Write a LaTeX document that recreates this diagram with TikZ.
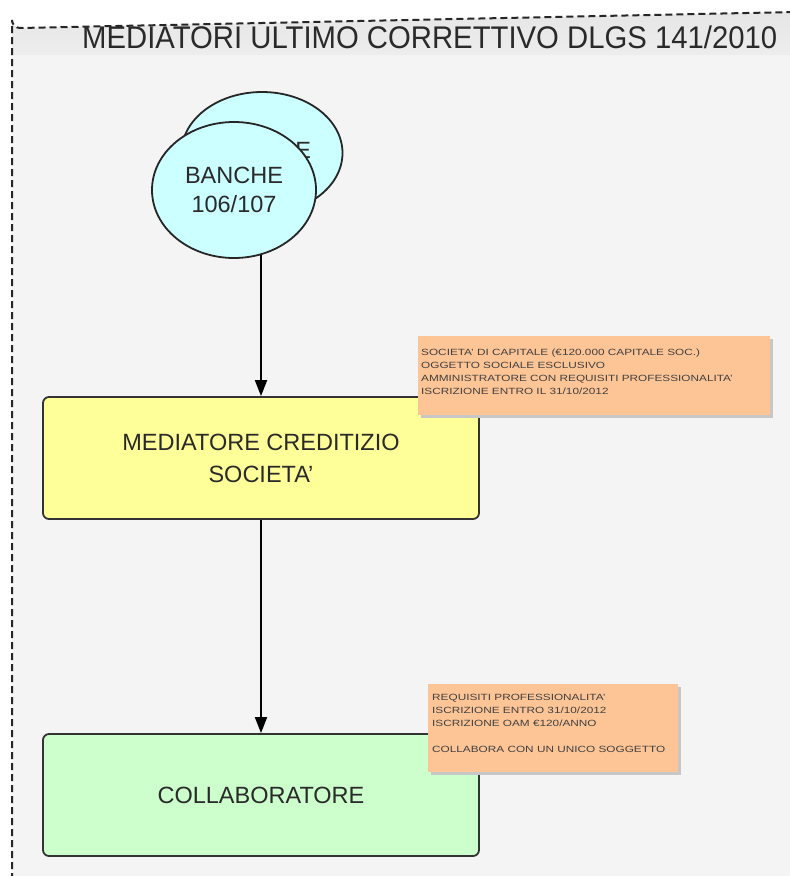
\documentclass[tikz,border=0pt]{standalone}
\usepackage{fontspec}
\setmainfont{Liberation Sans}[Ligatures=ResetAll]
\usetikzlibrary{shapes.geometric,arrows.meta}
\definecolor{bgray}{HTML}{F4F4F4}
\definecolor{tband}{HTML}{E6E6E6}
\definecolor{cyanfill}{HTML}{CCFFFF}
\definecolor{yelfill}{HTML}{FFFF99}
\definecolor{grnfill}{HTML}{CCFFCC}
\definecolor{notefill}{HTML}{FDC596}
\definecolor{txt}{HTML}{2A2A2A}
\newcommand{\ap}{\char"0027\relax}
\tikzset{
  circ/.style={ellipse, draw=black!85, line width=1.8pt, fill=cyanfill, text=txt,
    font=\fontsize{23.5}{29}\selectfont, align=center, inner sep=0pt},
  mainbox/.style={rectangle, rounded corners=6pt, draw=black!80, line width=1.8pt,
    minimum width=436pt, minimum height=122pt, text=txt,
    font=\fontsize{23.5}{32}\selectfont, align=center},
  note/.style={rectangle, fill=notefill, inner sep=0pt, anchor=north west},
  notetxt/.style={anchor=north west, inner sep=0pt, font=\fontsize{9}{13}\selectfont, text=black!75},
  shadowbox/.style={fill=black!22},
  conn/.style={line width=1.8pt, -{Triangle[width=12pt,length=16pt]}},
}
\newcommand{\notetext}[1]{\scalebox{1.31}[1]{\begin{tabular}{@{}l@{}}#1\end{tabular}}}
\begin{document}
\begin{tikzpicture}[x=1pt,y=-1pt]
\useasboundingbox (0,0) rectangle (790,876);
\fill[white] (0,0) rectangle (790,876);
% frame
\fill[bgray] (12,880) -- (12,20) arc[start angle=180,end angle=90,radius=8] -- (795,12) -- (795,880) -- cycle;
\shade[top color=tband, bottom color=tband!50!bgray] (12,55) -- (12,20) arc[start angle=180,end angle=90,radius=8] -- (795,12) -- (795,55) -- cycle;
\draw[dash pattern=on 7pt off 4pt, line width=2pt, black!85] (12,880) -- (12,20) arc[start angle=180,end angle=90,radius=8] -- (795,12);
\node[text=txt, font=\fontsize{29}{32}\selectfont, anchor=west, inner sep=0pt] (title) at (82,37) {\scalebox{1.01}[1.08]{MEDIATORI ULTIMO CORRETTIVO DLGS 141/2010}};
% circles
\node[circ, minimum width=161pt, minimum height=122pt] (back) at (262,153) {\raisebox{6pt}{BANCHE}};
\node[circ, minimum width=164pt, minimum height=136pt] (front) at (234,190) {BANCHE\\106/107};
% boxes
\node[mainbox, fill=yelfill] (med) at (261,458) {MEDIATORE CREDITIZIO\\SOCIETA\ap};
\node[mainbox, fill=grnfill] (coll) at (261,795) {COLLABORATORE};
% connectors
\coordinate (fs) at (261,255);
\draw[conn] (fs) -- (med.north);
\draw[conn] (med.south) -- (coll.north);
% notes
\fill[shadowbox] (421,339) rectangle (773,418);
\node[note, minimum width=352pt, minimum height=79pt] (n1) at (418,336) {};
\node[notetxt] (n1t) at (421,346) {\notetext{SOCIETA\ap{} DI CAPITALE (€120.000 CAPITALE SOC.)\\OGGETTO SOCIALE ESCLUSIVO\\AMMINISTRATORE CON REQUISITI PROFESSIONALITA\ap\\ISCRIZIONE ENTRO IL 31/10/2012}};
\fill[shadowbox] (431,687) rectangle (681,775);
\node[note, minimum width=250pt, minimum height=88pt] (n2) at (428,684) {};
\node[notetxt] (n2t) at (432,691) {\notetext{REQUISITI PROFESSIONALITA\ap\\ISCRIZIONE ENTRO 31/10/2012\\ISCRIZIONE OAM €120/ANNO\\[13pt]COLLABORA CON UN UNICO SOGGETTO}};
\end{tikzpicture}
\end{document}
